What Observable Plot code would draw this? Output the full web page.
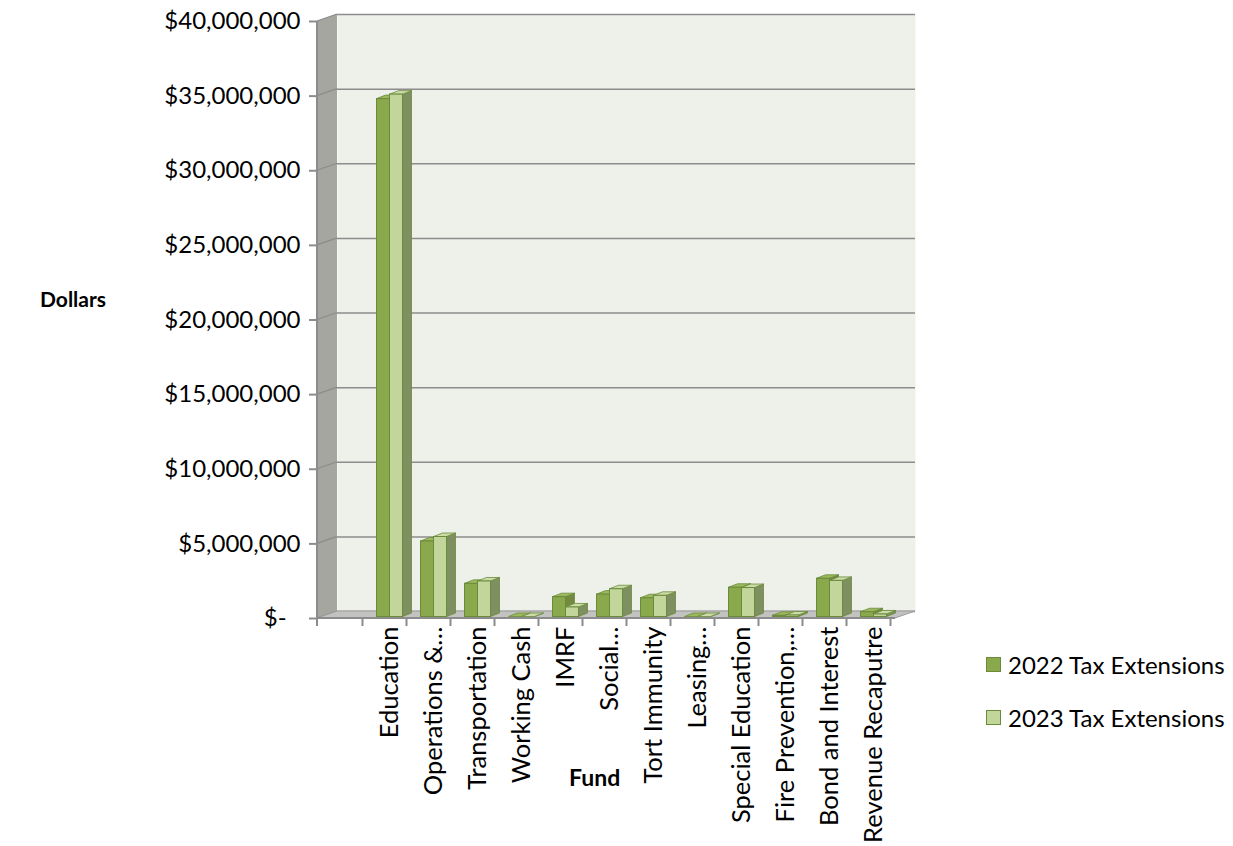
<!DOCTYPE html>
<html><head><meta charset="utf-8">
<script src="https://cdn.jsdelivr.net/npm/d3@7"></script>
<script src="https://cdn.jsdelivr.net/npm/@observablehq/plot@0.6"></script>
<style>
body{margin:0;background:#fff;font-family:Lato,"Open Sans",sans-serif;}
#wrap{position:relative;width:1233px;height:846px;}
.axlbl{position:absolute;font-weight:bold;color:#000;white-space:nowrap;}
.leg{position:absolute;left:986px;display:flex;align-items:center;font-size:24px;color:#000;white-space:nowrap;height:28px;}
.sw{display:inline-block;width:13px;height:13px;border:1px solid #6b8a3a;margin-right:7px;}
</style></head>
<body><div id="wrap"></div>
<script>
// ---- data ----
const funds = ["Education","Operations &…","Transportation","Working Cash","IMRF","Social…","Tort Immunity","Leasing…","Special Education","Fire Prevention,…","Bond and Interest","Revenue Recaputre"];
const seriesNames = ["2022 Tax Extensions","2023 Tax Extensions"];
const ext2022 = [34700000, 5060000, 2220000, 0, 1330000, 1500000, 1260000, 0, 1960000, 80000, 2560000, 320000];
const ext2023 = [35000000, 5360000, 2380000, 0, 640000, 1860000, 1420000, 0, 1940000, 100000, 2420000, 170000];
const yTicks = [0, 5000000, 10000000, 15000000, 20000000, 25000000, 30000000, 35000000, 40000000];

// ---- styling ----
const C22 = {front:"#8aa84c", top:"#9cb95e", side:"#72893f", edge:"#6b8a3a"};
const C23 = {front:"#c2d59b", top:"#cbdca8", side:"#7e8f62", edge:"#6b8a3a"};
const WDX = 20, WDY = -7;      // wall depth
const BDX = 9, BDY = -3.5;     // bar depth
const BASEDY = -1.5;           // bars' front baseline shift
const slots = [[14.5, 27.5], [27.5, 40.5]];

const rows22 = funds.map((f, i) => ({fund: f, value: ext2022[i]}));
const rows23 = funds.map((f, i) => ({fund: f, value: ext2023[i]}));
const fmt = v => v === 0 ? "$-\u2007" : "$" + d3.format(",")(v);
const pts = a => a.map(p => p.join(",")).join(" ");

function walls(index, scales, values, dim) {
  const L = dim.marginLeft, R = dim.width - dim.marginRight;
  const T = dim.marginTop, B = dim.height - dim.marginBottom;
  const g = d3.create("svg:g");
  g.append("polygon").attr("points", pts([[L,T],[L+WDX,T+WDY],[L+WDX,B+WDY],[L,B]])).attr("fill","#a4a69f");
  for (const t of yTicks) {
    const y = scales.y(t);
    g.append("line").attr("x1",L).attr("y1",y).attr("x2",L+WDX).attr("y2",y+WDY).attr("stroke","#8c8c8c").attr("stroke-width",1.3);
  }
  g.append("polygon").attr("points", pts([[L,B],[L+WDX,B+WDY],[R+WDX,B+WDY],[R,B]])).attr("fill","#c2c3c0").attr("stroke","#9a9a9a").attr("stroke-width",1);
  g.append("line").attr("x1",L).attr("y1",B).attr("x2",R).attr("y2",B).attr("stroke","#8c8c8c").attr("stroke-width",2);
  g.append("line").attr("x1",L).attr("y1",T).attr("x2",L).attr("y2",B+8).attr("stroke","#8c8c8c").attr("stroke-width",2);
  return g.node();
}

function faces(index, scales) {
  const x = scales.x, y = scales.y;
  const g = d3.create("svg:g");
  funds.forEach((f, i) => {
    [[ext2022[i], slots[0], C22], [ext2023[i], slots[1], C23]].forEach(([v, s, c]) => {
      const xl = x(f) + s[0], xr = x(f) + s[1];
      const yt = y(v) + BASEDY, yb = y(0) + BASEDY;
      g.append("polygon").attr("points", pts([[xr,yt],[xr+BDX,yt+BDY],[xr+BDX,yb+BDY],[xr,yb]]))
        .attr("fill", c.side).attr("stroke", c.edge).attr("stroke-width", 0.8);
      g.append("polygon").attr("points", pts([[xl,yt],[xr,yt],[xr+BDX,yt+BDY],[xl+BDX,yt+BDY]]))
        .attr("fill", c.top).attr("stroke", c.edge).attr("stroke-width", 0.8);
    });
  });
  return g.node();
}

const chart = Plot.plot({
  width: 1233, height: 846,
  marginLeft: 317, marginRight: 338, marginTop: 21, marginBottom: 228,
  style: {fontFamily: "Lato, 'Open Sans', sans-serif", fontSize: "24px", color: "#000", background: "#fff"},
  x: {type: "band", domain: funds, range: [362, 890], padding: 0, axis: null},
  y: {domain: [0, 40000000], axis: null},
  marks: [
    Plot.frame({fill: "#eef1ea", stroke: null, dx: WDX, dy: WDY}),
    Plot.ruleY(yTicks, {y: d => d, dx: WDX, dy: WDY, stroke: "#8c8c8c", strokeWidth: 1.5}),
    walls,
    faces,
    Plot.barY(rows22, {x: "fund", y: "value", fill: C22.front, stroke: C22.edge, strokeWidth: 1, insetLeft: slots[0][0], insetRight: 44 - slots[0][1], dy: BASEDY}),
    Plot.barY(rows23, {x: "fund", y: "value", fill: C23.front, stroke: C23.edge, strokeWidth: 1, insetLeft: slots[1][0], insetRight: 44 - slots[1][1], dy: BASEDY}),
    Plot.axisY({ticks: yTicks, tickFormat: fmt, tickSize: 8, tickPadding: 9, stroke: "#8c8c8c", strokeWidth: 2, fill: "#000", fontSize: 24, label: null}),
    Plot.axisX({tickSize: 8, dx: -22, tickFormat: () => "", stroke: "#8c8c8c", strokeWidth: 2, label: null}),
    Plot.axisX({ticks: [funds[funds.length - 1]], tickSize: 8, dx: 22, tickFormat: () => "", stroke: "#8c8c8c", strokeWidth: 2, label: null}),
    Plot.axisX({tickSize: 0, tickPadding: 8, tickRotate: -90, dx: 5, fill: "#000", fontSize: 25.5, label: null})
  ]
});

const wrap = document.getElementById("wrap");
wrap.appendChild(chart);

function addDiv(cls, css, html) {
  const d = document.createElement("div");
  d.className = cls; d.style.cssText = css; d.innerHTML = html;
  wrap.appendChild(d);
}
addDiv("axlbl", "left:40px;top:286px;font-size:21px;", "Dollars");
addDiv("axlbl", "left:569px;top:763px;font-size:23px;", "Fund");
addDiv("leg", "top:650px;", `<span class="sw" style="background:${C22.front}"></span>${seriesNames[0]}`);
addDiv("leg", "top:703px;", `<span class="sw" style="background:${C23.front}"></span>${seriesNames[1]}`);
</script>
</body></html>
